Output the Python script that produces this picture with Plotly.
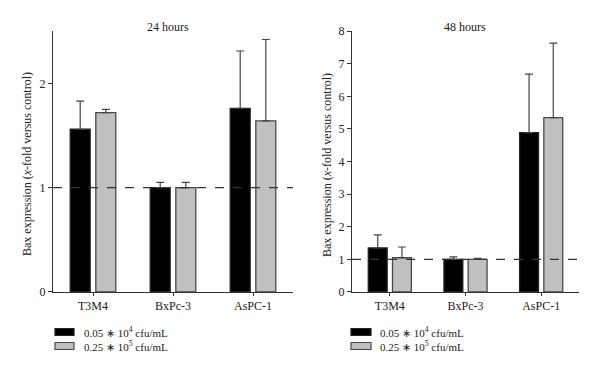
import plotly.graph_objects as go

categories = ["T3M4", "BxPc-3", "AsPC-1"]
series_names = ["0.05 ∗ 10<sup>4</sup> cfu/mL", "0.25 ∗ 10<sup>5</sup> cfu/mL"]

# 24 hours
h24_low = [1.56, 1.00, 1.76]
h24_low_err = [0.27, 0.05, 0.55]
h24_high = [1.72, 1.00, 1.64]
h24_high_err = [0.03, 0.05, 0.78]

# 48 hours
h48_low = [1.35, 1.00, 4.89]
h48_low_err = [0.40, 0.08, 1.79]
h48_high = [1.05, 1.00, 5.35]
h48_high_err = [0.33, 0.03, 2.28]

y24_ticks = [0, 1, 2]
y48_ticks = [0, 1, 2, 3, 4, 5, 6, 7, 8]

FONT = "Liberation Serif"
AX = "#333333"
fills = ["#000000", "#c0c0c0"]
edges = ["#222222", "#4a4a4a"]

fig = go.Figure()

def add_bars(vals, errs, idx, xa, ya):
    fig.add_trace(go.Bar(
        x=categories, y=vals, xaxis=xa, yaxis=ya,
        marker=dict(color=fills[idx], line=dict(color=edges[idx], width=1.3)),
        error_y=dict(type="data", symmetric=False, array=errs,
                     arrayminus=[0] * len(errs), color="#444444",
                     thickness=1.2, width=4),
        showlegend=False, name=series_names[idx],
        offsetgroup=str(idx),
    ))

add_bars(h24_low, h24_low_err, 0, "x", "y")
add_bars(h24_high, h24_high_err, 1, "x", "y")
add_bars(h48_low, h48_low_err, 0, "x2", "y2")
add_bars(h48_high, h48_high_err, 1, "x2", "y2")

ydom = [0.2316, 0.918]
xcommon = dict(showline=True, linecolor=AX, linewidth=1.2, ticks="outside",
               ticklen=3, tickcolor=AX, showgrid=False, zeroline=False,
               automargin=False,
               tickfont=dict(family=FONT, size=12, color="#222"), fixedrange=True)
ycommon = dict(showline=True, linecolor=AX, linewidth=1.2, ticks="outside",
               ticklen=4, tickcolor=AX, showgrid=False, zeroline=False,
               automargin=False,
               tickfont=dict(family=FONT, size=12, color="#222"), fixedrange=True)

fig.update_layout(
    width=600, height=380,
    margin=dict(l=0, r=0, t=0, b=0, autoexpand=False),
    paper_bgcolor="white", plot_bgcolor="white",
    barmode="group", bargap=0.36, bargroupgap=0.22,
    xaxis=dict(domain=[53 / 600, 293 / 600], anchor="y", **xcommon),
    yaxis=dict(domain=ydom, anchor="x", range=[0, 2.5], tickvals=y24_ticks, **ycommon),
    xaxis2=dict(domain=[352 / 600, 579 / 600], anchor="y2", **xcommon),
    yaxis2=dict(domain=ydom, anchor="x2", range=[0, 8], tickvals=y48_ticks, **ycommon),
    font=dict(family=FONT, color="#222"),
)

# reference lines at 1
for xr, yr in [("x domain", "y"), ("x2 domain", "y2")]:
    fig.add_shape(type="line", xref=xr, yref=yr, x0=0, x1=1, y0=1, y1=1,
                  line=dict(color=AX, width=1.2, dash="dash"), layer="above")

ytitle = "Bax expression (<i>x</i>-fold versus control)"
annots = [
    dict(text="24 hours", x=168 / 600, y=(380 - 27) / 380),
    dict(text="48 hours", x=465 / 600, y=(380 - 27) / 380),
    dict(text=ytitle, x=27 / 600, y=(380 - 164) / 380, textangle=-90),
    dict(text=ytitle, x=327 / 600, y=(380 - 165) / 380, textangle=-90),
]
for a in annots:
    fig.add_annotation(xref="paper", yref="paper", showarrow=False,
                       font=dict(family=FONT, size=12, color="#222"),
                       xanchor="center", yanchor="middle", **a)

# legends
for sx0, sx1, tx in [(55, 74, 82), (351, 371, 378)]:
    for i, cy in enumerate([332, 346]):
        fig.add_shape(type="rect", xref="paper", yref="paper",
                      x0=sx0 / 600, x1=sx1 / 600,
                      y0=(380 - cy - 3.5) / 380, y1=(380 - cy + 3.5) / 380,
                      fillcolor=fills[i], line=dict(color=edges[i], width=1.2))
        fig.add_annotation(xref="paper", yref="paper", showarrow=False,
                           x=tx / 600, y=(380 - cy) / 380, xanchor="left",
                           yanchor="middle", text=series_names[i],
                           font=dict(family=FONT, size=11, color="#222"))

fig.write_html("out.html", config={"displayModeBar": False},
               post_script="document.body.style.margin='0px';document.body.style.padding='0px';")
